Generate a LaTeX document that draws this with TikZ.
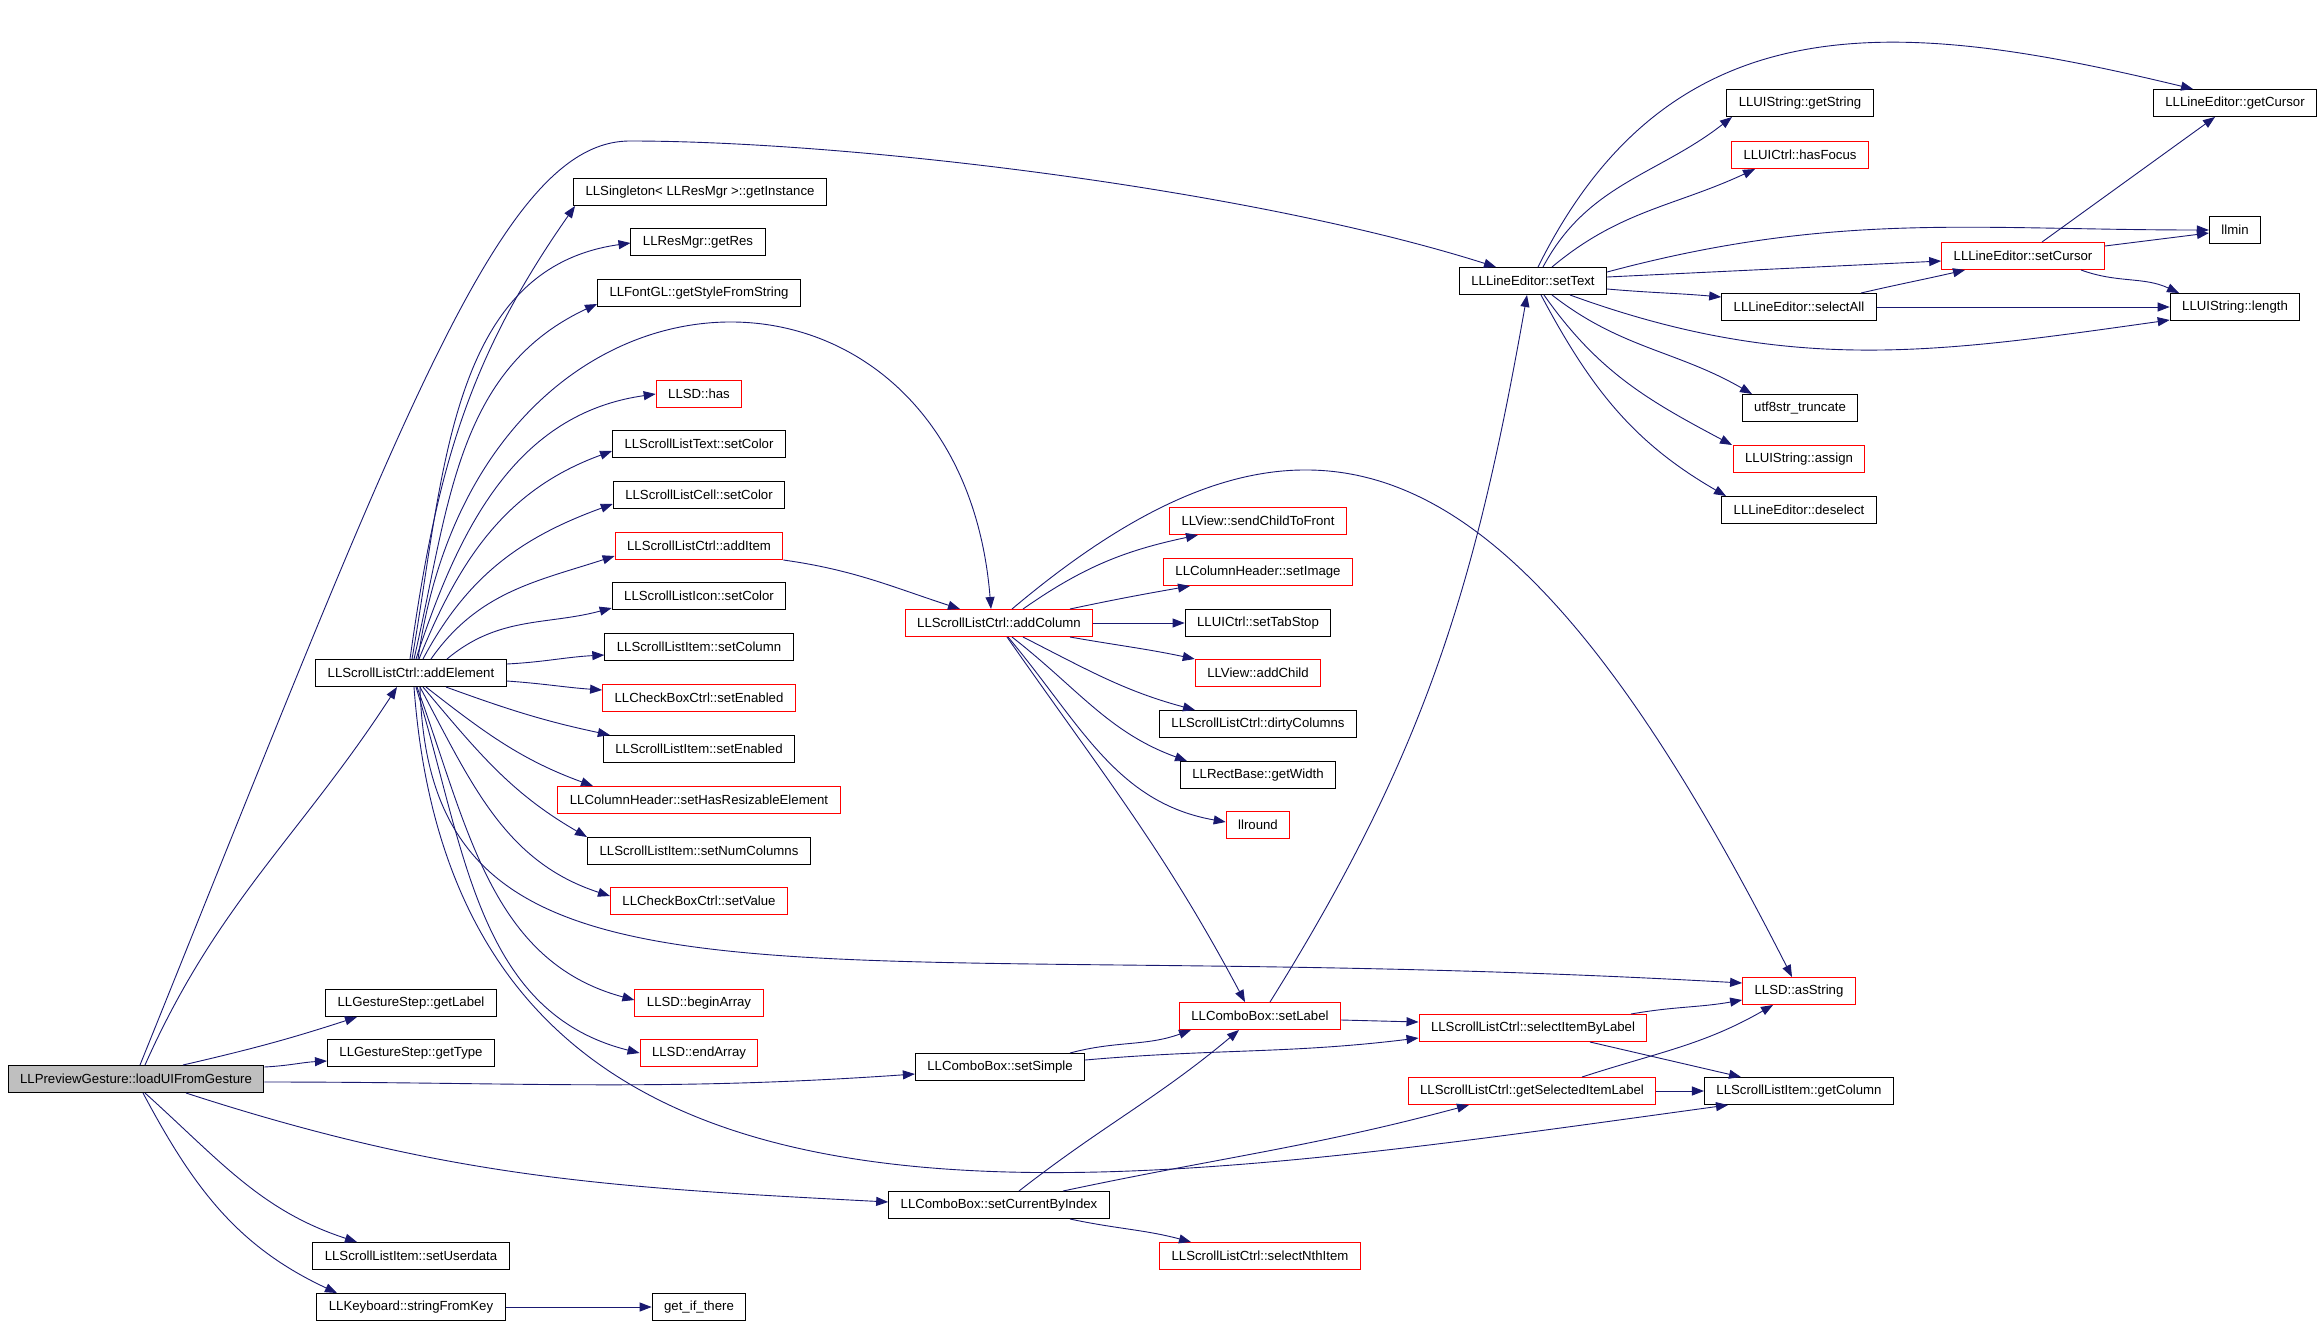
\documentclass[tikz,border=0pt]{standalone}
\usepackage{fontspec}
\setmainfont{Liberation Sans}
\usepackage{tikz}
\usetikzlibrary{arrows.meta}

\definecolor{edgeblue}{RGB}{25,25,112}
\definecolor{rootgray}{RGB}{191,191,191}
\newcommand\fnfont{\fontsize{13.2}{15}\selectfont}

\tikzset{
  fn/.style={draw=black, line width=1pt, minimum height=27pt, inner xsep=12pt, inner ysep=0pt, font=\fnfont},
  fnred/.style={fn, draw=red},
  fnroot/.style={fn, fill=rootgray},
  call/.style={draw=edgeblue, line width=0.9pt, -{Triangle[length=12pt,width=9pt]}}
}

\begin{document}
\begin{tikzpicture}[x=1pt, y=1pt]
\useasboundingbox (0,0) rectangle (2320,-1325);

% callers
\node [fnroot] (pg) at (136,-1079) {LLPreviewGesture::loadUIFromGesture};
\node [fn] (ae) at (411,-673) {LLScrollListCtrl::addElement};
\node [fn] (gsLabel) at (411,-1003) {LLGestureStep::getLabel};
\node [fn] (gsType) at (411,-1053) {LLGestureStep::getType};
\node [fn] (setUserdata) at (411,-1256) {LLScrollListItem::setUserdata};
\node [fn] (stringFromKey) at (411,-1307) {LLKeyboard::stringFromKey};

% column of addElement
\node [fn] (getInstance) at (700,-192) {LLSingleton< LLResMgr >::getInstance};
\node [fn] (getRes) at (698,-242) {LLResMgr::getRes};
\node [fn] (getStyle) at (699,-293) {LLFontGL::getStyleFromString};
\node [fnred] (sdHas) at (699,-394) {LLSD::has};
\node [fn] (textColor) at (699,-444) {LLScrollListText::setColor};
\node [fn] (cellColor) at (699,-495) {LLScrollListCell::setColor};
\node [fnred] (addItem) at (699,-546) {LLScrollListCtrl::addItem};
\node [fn] (iconColor) at (699,-596) {LLScrollListIcon::setColor};
\node [fn] (setColumn) at (699,-647) {LLScrollListItem::setColumn};
\node [fnred] (cbEnabled) at (699,-698) {LLCheckBoxCtrl::setEnabled};
\node [fn] (itemEnabled) at (699,-749) {LLScrollListItem::setEnabled};
\node [fnred] (resizable) at (699,-800) {LLColumnHeader::setHasResizableElement};
\node [fn] (numColumns) at (699,-851) {LLScrollListItem::setNumColumns};
\node [fnred] (cbValue) at (699,-901) {LLCheckBoxCtrl::setValue};
\node [fnred] (beginArray) at (699,-1003) {LLSD::beginArray};
\node [fnred] (endArray) at (699,-1053) {LLSD::endArray};
\node [fn] (getIfThere) at (699,-1307) {get\_if\_there};

% combo box and columns
\node [fnred] (addColumn) at (999,-623) {LLScrollListCtrl::addColumn};
\node [fn] (setSimple) at (1000,-1067) {LLComboBox::setSimple};
\node [fn] (setCurIdx) at (999,-1205) {LLComboBox::setCurrentByIndex};
\node [fnred] (sendFront) at (1258,-521) {LLView::sendChildToFront};
\node [fnred] (setImage) at (1258,-572) {LLColumnHeader::setImage};
\node [fn] (setTabStop) at (1258,-623) {LLUICtrl::setTabStop};
\node [fnred] (addChild) at (1258,-673) {LLView::addChild};
\node [fn] (dirtyCols) at (1258,-724) {LLScrollListCtrl::dirtyColumns};
\node [fn] (getWidth) at (1258,-775) {LLRectBase::getWidth};
\node [fnred] (llround) at (1258,-825) {llround};
\node [fnred] (setLabel) at (1260,-1016) {LLComboBox::setLabel};
\node [fnred] (selectNth) at (1260,-1256) {LLScrollListCtrl::selectNthItem};

\node [fn] (setText) at (1533,-281) {LLLineEditor::setText};
\node [fnred] (selByLabel) at (1533,-1028) {LLScrollListCtrl::selectItemByLabel};
\node [fnred] (getSelLabel) at (1532,-1091) {LLScrollListCtrl::getSelectedItemLabel};

\node [fn] (getString) at (1800,-103) {LLUIString::getString};
\node [fnred] (hasFocus) at (1800,-155) {LLUICtrl::hasFocus};
\node [fn] (selectAll) at (1799,-307) {LLLineEditor::selectAll};
\node [fn] (truncate) at (1800,-408) {utf8str\_truncate};
\node [fnred] (assign) at (1799,-459) {LLUIString::assign};
\node [fn] (deselect) at (1799,-510) {LLLineEditor::deselect};
\node [fnred] (asString) at (1799,-991) {LLSD::asString};
\node [fn] (getColumn) at (1799,-1091) {LLScrollListItem::getColumn};

\node [fnred] (setCursor) at (2023,-256) {LLLineEditor::setCursor};
\node [fn] (getCursor) at (2235,-103) {LLLineEditor::getCursor};
\node [fn] (llmin) at (2235,-230) {llmin};
\node [fn] (strLength) at (2235,-307) {LLUIString::length};

\coordinate (topbend) at (630,-141);

% edges from loadUIFromGesture
\draw [call] ([xshift=9pt]pg.north) to[out=66,in=237] ([xshift=-14pt]ae.south);
\draw [call] ([xshift=4pt]pg.north) .. controls +(262,649) and +(-130,0) .. (topbend)
  .. controls +(220,0) and +(-246,78) .. ([xshift=-37pt]setText.north);
\draw [call] ([xshift=47pt]pg.north) to[out=13,in=198] ([xshift=-54pt]gsLabel.south);
\draw [call] ([yshift=-2pt]pg.north east) to[out=3,in=183] ([yshift=-8pt]gsType.west);
\draw [call] ([yshift=-3pt]pg.east) to[out=0,in=184] ([yshift=-7pt]setSimple.west);
\draw [call] ([xshift=50pt]pg.south) to[out=-18,in=177] ([yshift=3pt]setCurIdx.west);
\draw [call] ([xshift=9pt]pg.south) to[out=-42,in=162] ([xshift=-54pt]setUserdata.north);
\draw [call] ([xshift=7pt]pg.south) to[out=-62,in=155] ([xshift=-74pt]stringFromKey.north);
\draw [call] (stringFromKey.east) -- (getIfThere.west);

% edges from addElement
\draw [call] ([xshift=-1pt]ae.north) to[out=82,in=235] ([xshift=2pt]getInstance.south west);
\draw [call] ([xshift=1pt]ae.north) to[out=80,in=188] ([yshift=-1pt]getRes.west);
\draw [call] ([xshift=3pt]ae.north) to[out=77,in=205] ([yshift=-11pt]getStyle.west);
\draw [call] ([xshift=5pt]ae.north) to[out=72,in=188] (sdHas.west);
\draw [call] ([xshift=8pt]ae.north) to[out=68,in=200] ([yshift=-7pt]textColor.west);
\draw [call] ([xshift=12pt]ae.north) to[out=62,in=200] ([yshift=-9pt]cellColor.west);
\draw [call] ([xshift=20pt]ae.north) to[out=55,in=198] ([yshift=-10pt]addItem.west);
\draw [call] ([xshift=36pt]ae.north) to[out=40,in=195] ([yshift=-12pt]iconColor.west);
\draw [call] ([yshift=9pt]ae.east) to[out=3,in=183] ([yshift=-8pt]setColumn.west);
\draw [call] ([yshift=-8pt]ae.east) to[out=-4,in=176] ([yshift=8pt]cbEnabled.west);
\draw [call] ([xshift=35pt]ae.south) to[out=-20,in=168] ([xshift=7pt]itemEnabled.north west);
\draw [call] ([xshift=15pt]ae.south) to[out=-38,in=160] ([xshift=-106pt]resizable.north);
\draw [call] ([xshift=12pt]ae.south) to[out=-50,in=150] ([xshift=-112pt]numColumns.north);
\draw [call] ([xshift=9pt]ae.south) to[out=-62,in=162] ([yshift=5pt]cbValue.west);
\draw [call] ([xshift=6pt]ae.south) to[out=-70,in=165] ([yshift=3pt]beginArray.west);
\draw [call] ([xshift=5pt]ae.south) to[out=-73,in=166] (endArray.west);
\draw [call] ([xshift=9pt]ae.south) .. controls +(10,-363) and +(-943,53) .. ([yshift=8pt]asString.west);
\draw [call] ([xshift=3pt]ae.south) .. controls +(45,-613) and +(-628,-86) .. ([xshift=-71pt]getColumn.south);
\draw [call] ([xshift=7pt]ae.north) .. controls +(62,439) and +(-31,388) .. ([xshift=-8pt]addColumn.north);
\draw [call] (addItem.south east) to[out=-8,in=162] ([xshift=-39pt]addColumn.north);

% edges from addColumn
\draw [call] ([xshift=24pt]addColumn.north) to[out=35,in=192] ([xshift=-60pt]sendFront.south);
\draw [call] ([xshift=71pt]addColumn.north) to[out=12,in=190] ([xshift=-68pt]setImage.south);
\draw [call] (addColumn.east) -- (setTabStop.west);
\draw [call] ([xshift=71pt]addColumn.south) to[out=-10,in=168] (addChild.north west);
\draw [call] ([xshift=24pt]addColumn.south) to[out=-27,in=165] ([xshift=-63pt]dirtyCols.north);
\draw [call] ([xshift=13pt]addColumn.south) to[out=-38,in=160] ([xshift=-71pt]getWidth.north);
\draw [call] ([xshift=9pt]addColumn.south) to[out=-50,in=170] ([yshift=3pt]llround.west);
\draw [call] ([xshift=8pt]addColumn.south) to[out=-55,in=118] ([xshift=-15pt]setLabel.north);
\draw [call] ([xshift=13pt]addColumn.north) .. controls +(306,258) and +(-272,535) .. ([xshift=-7pt]asString.north);

% combo box edges
\draw [call] ([xshift=10pt]setLabel.north) to[out=58,in=-100] ([xshift=-6pt]setText.south);
\draw [call] ([yshift=-4pt]setLabel.east) -- ([yshift=6pt]selByLabel.west);
\draw [call] ([xshift=70pt]setSimple.north) to[out=15,in=200] ([xshift=-69pt]setLabel.south);
\draw [call] ([yshift=7pt]setSimple.east) to[out=5,in=187] ([yshift=-10pt]selByLabel.west);
\draw [call] ([xshift=20pt]setCurIdx.north) to[out=38,in=220] ([xshift=-21pt]setLabel.south);
\draw [call] ([xshift=64pt]setCurIdx.north) to[out=12,in=195] ([xshift=-63pt]getSelLabel.south);
\draw [call] ([xshift=71pt]setCurIdx.south) to[out=-12,in=165] ([xshift=-69pt]selectNth.north);
\draw [call] ([xshift=98pt]selByLabel.north) to[out=10,in=190] ([yshift=-9pt]asString.west);
\draw [call] ([xshift=57pt]selByLabel.south) -- ([xshift=-58pt]getColumn.north);
\draw [call] ([xshift=50pt]getSelLabel.north) to[out=18,in=210] ([xshift=-26pt]asString.south);
\draw [call] (getSelLabel.east) -- (getColumn.west);

% edges from setText
\draw [call] ([xshift=10pt]setText.north) to[out=62,in=218] ([xshift=-68pt]getString.south);
\draw [call] ([xshift=19pt]setText.north) to[out=40,in=205] ([xshift=-45pt]hasFocus.south);
\draw [call] ([xshift=5pt]setText.north) .. controls +(135,272) and +(-290,70) .. ([xshift=-42pt]getCursor.north);
\draw [call] ([yshift=9pt]setText.east) to[out=15,in=180] (llmin.west);
\draw [call] ([yshift=4pt]setText.east) -- ([yshift=-5pt]setCursor.west);
\draw [call] ([yshift=-8pt]setText.east) to[out=-5,in=175] ([yshift=10pt]selectAll.west);
\draw [call] ([xshift=37pt]setText.south) to[out=-20,in=188] ([yshift=-13pt]strLength.west);
\draw [call] ([xshift=19pt]setText.south) to[out=-38,in=150] ([xshift=-48pt]truncate.north);
\draw [call] ([xshift=11pt]setText.south) to[out=-55,in=152] ([xshift=-67pt]assign.north);
\draw [call] ([xshift=8pt]setText.south) to[out=-62,in=150] ([xshift=-73pt]deselect.north);
\draw [call] ([xshift=62pt]selectAll.north) to[out=13,in=193] ([xshift=-58pt]setCursor.south);
\draw [call] (selectAll.east) -- (strLength.west);
\draw [call] ([xshift=19pt]setCursor.north) -- ([xshift=-20pt]getCursor.south);
\draw [call] ([yshift=10pt]setCursor.east) -- ([yshift=-3pt]llmin.west);
\draw [call] ([xshift=58pt]setCursor.south) to[out=-20,in=155] ([xshift=-56pt]strLength.north);

\end{tikzpicture}
\end{document}
